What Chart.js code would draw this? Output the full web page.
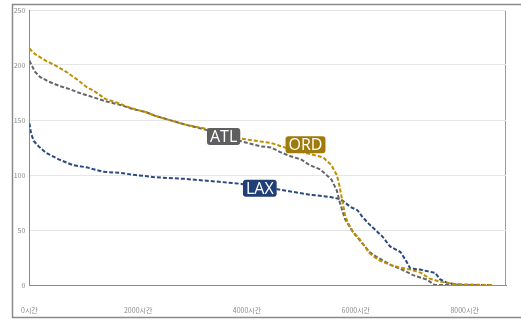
<!DOCTYPE html>
<html>
<head>
<meta charset="utf-8">
<script src="https://cdn.jsdelivr.net/npm/chart.js@4.4.0/dist/chart.umd.min.js"></script>
<style>
  html, body { margin: 0; padding: 0; background: #fff; }
  #wrap { width: 521px; height: 320px; position: relative; }
</style>
</head>
<body>
<div id="wrap"><canvas id="myChart" width="521" height="320"></canvas></div>
<script>
// x = hours of the year (sorted), y = value
var ordHours = [0, 100, 300, 500, 700, 900, 1050, 1200, 1400, 1600, 1800, 2000, 2150, 2300, 2850, 3250, 3900, 4450, 4700, 5000, 5400, 5550, 5650, 5700, 5750, 5800, 5850, 5950, 6050, 6150, 6250, 6350, 6450, 6650, 6800, 7000, 7200, 7350, 7550, 7800, 8000, 8500];
var ordValues = [215, 210, 204, 199, 193, 186, 180, 176, 169, 166, 162, 159, 157, 154, 146, 142, 133, 129, 125, 121, 116, 109, 100, 90, 77, 64, 57, 48, 43, 36, 29, 25, 22, 18, 16, 14, 11, 6, 3, 1, 0.5, 0];

var atlHours = [0, 50, 100, 200, 350, 550, 750, 900, 1150, 1400, 1650, 1900, 2150, 2300, 2850, 3250, 3940, 4250, 4450, 4600, 4800, 5000, 5150, 5350, 5550, 5650, 5700, 5800, 5950, 6100, 6250, 6400, 6650, 6850, 7050, 7300, 7450, 8450];
var atlValues = [204, 199, 194, 189, 185, 181, 178, 175, 171, 167, 164, 160, 157, 154, 146, 141, 130, 126, 125, 121, 117, 114, 109, 105, 96, 86, 76, 60, 48, 39, 30, 25, 18, 14, 9, 5, 0, 0];

var laxHours = [0, 30, 80, 170, 310, 550, 800, 1050, 1350, 1650, 1950, 2300, 2850, 3450, 3880, 4560, 4800, 5170, 5530, 5720, 5800, 5900, 6030, 6120, 6230, 6360, 6490, 6630, 6820, 6910, 7000, 7180, 7460, 7550, 7680, 7900, 8200];
var laxValues = [147, 138, 131, 126, 120, 114, 109, 107, 103, 102, 100, 98, 96.5, 94, 92, 87, 85, 82, 80, 78, 75, 71, 68, 62, 56, 50, 44, 35, 30, 23, 15, 14, 11, 5, 2, 0, 0];

var xTicks = [0, 2000, 4000, 6000, 8000];
var yTicks = [0, 50, 100, 150, 200, 250];

// label boxes: [text, hours, value, color]
var tagNames = ["ATL", "ORD", "LAX"];
var tagHours = [3570, 5075, 4235];
var tagValues = [135, 127.5, 88];
var tagColors = ["#5f5f5f", "#9e7b0a", "#1f3f76"];

function pts(xs, ys) {
  return xs.map(function (h, i) { return { x: h, y: ys[i] }; });
}

var frame = {
  id: "frame",
  beforeDraw: function (chart) {
    var c = chart.ctx;
    c.save();
    c.strokeStyle = "#8a8a8a";
    c.lineWidth = 1.5;
    c.beginPath();
    c.moveTo(521, 4.5); c.lineTo(12.5, 4.5); c.lineTo(12.5, 317.5); c.lineTo(521, 317.5);
    c.stroke();
    var a = chart.chartArea;
    c.lineWidth = 1;
    c.strokeStyle = "#c8c8c8";
    c.beginPath(); c.moveTo(a.left, a.top + 0.5); c.lineTo(a.right, a.top + 0.5); c.stroke();
    c.strokeStyle = "#9a9a9a";
    c.beginPath(); c.moveTo(a.right - 0.5, a.top); c.lineTo(a.right - 0.5, a.bottom); c.stroke();
    c.restore();
  },
  afterDatasetsDraw: function (chart) {
    var c = chart.ctx;
    var xs = chart.scales.x, ys = chart.scales.y;
    c.save();
    c.font = "16px 'Open Sans', sans-serif";
    c.textAlign = "center";
    c.textBaseline = "middle";
    tagNames.forEach(function (t, i) {
      var px = xs.getPixelForValue(tagHours[i]);
      var py = ys.getPixelForValue(tagValues[i]);
      var w = c.measureText(t).width + 6, h = 17;
      c.fillStyle = tagColors[i];
      c.beginPath();
      c.roundRect(px - w / 2, py - h / 2, w, h, 3);
      c.fill();
      c.fillStyle = "#ffffff";
      c.fillText(t, px, py + 1);
    });
    c.restore();
  }
};

var ctx = document.getElementById("myChart").getContext("2d");
var chart = new Chart(ctx, {
  type: "line",
  data: {
    datasets: [
      {
        label: "ORD",
        data: pts(ordHours, ordValues),
        borderColor: "#bf9000",
        borderWidth: 2,
        borderDash: [4, 2],
        pointRadius: 0,
        fill: false
      },
      {
        label: "ATL",
        data: pts(atlHours, atlValues),
        borderColor: "#666666",
        borderWidth: 2,
        borderDash: [4, 2],
        pointRadius: 0,
        fill: false
      },
      {
        label: "LAX",
        data: pts(laxHours, laxValues),
        borderColor: "#2c4a7e",
        borderWidth: 2,
        borderDash: [4, 2],
        pointRadius: 0,
        fill: false
      }
    ]
  },
  options: {
    responsive: false,
    animation: false,
    layout: { padding: { left: 0, top: 10, right: 15, bottom: 0 } },
    plugins: { legend: { display: false }, tooltip: { enabled: false } },
    scales: {
      x: {
        type: "linear",
        min: 0,
        max: 8760,
        afterBuildTicks: function (s) { s.ticks = xTicks.map(function (v) { return { value: v }; }); },
        afterFit: function (s) { s.height = 35; },
        grid: { display: false, drawTicks: false },
        border: { display: true, color: "#8a8a8a", width: 1 },
        ticks: {
          padding: 21,
          maxRotation: 0,
          color: "#8c8c8c",
          font: { size: 7, family: "'Noto Sans CJK KR', sans-serif" },
          callback: function (v) { return v + "시간"; }
        }
      },
      y: {
        min: 0,
        max: 250,
        afterBuildTicks: function (s) { s.ticks = yTicks.map(function (v) { return { value: v }; }); },
        afterFit: function (s) { s.width = 28; },
        grid: { color: "#e6e6e6", drawTicks: false },
        border: { display: true, color: "#8a8a8a", width: 1 },
        ticks: {
          padding: 4,
          color: "#8c8c8c",
          font: { size: 7, family: "'Noto Sans CJK KR', sans-serif" }
        }
      }
    }
  },
  plugins: [frame]
});
</script>
</body>
</html>
